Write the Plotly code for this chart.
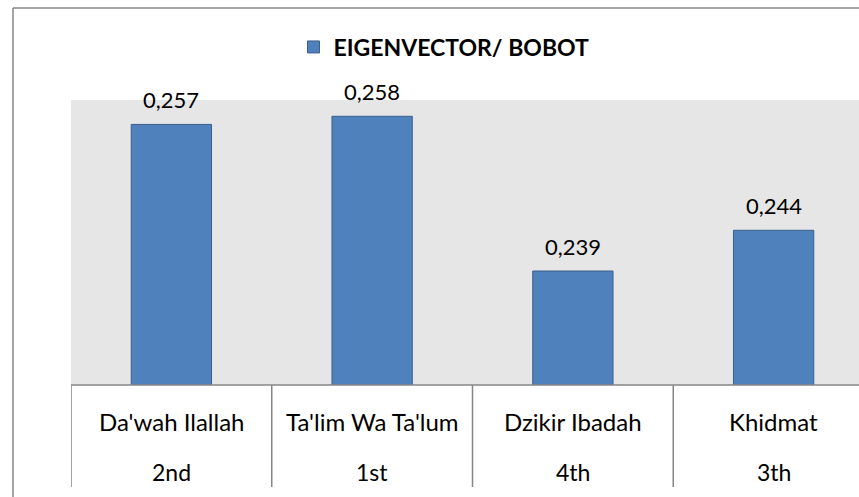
import plotly.graph_objects as go

categories = ["Da'wah Ilallah", "Ta'lim Wa Ta'lum", "Dzikir Ibadah", "Khidmat"]
ranks = ["2nd", "1st", "4th", "3th"]
values = [0.257, 0.258, 0.239, 0.244]
value_labels = ["0,257", "0,258", "0,239", "0,244"]
series_name = "EIGENVECTOR/ BOBOT"

W, H = 859, 497
L, R, T, B = 71, 0, 100, 112
pw, ph = W - L - R, H - T - B

def px_x(x):
    return (x - L) / pw

def px_y(y):
    return (H - B - y) / ph

FONT = "Lato, 'Open Sans', sans-serif"
GRID = "#868686"

xs = list(range(len(categories)))
fig = go.Figure()
fig.add_trace(go.Bar(
    x=xs, y=values, name=series_name, width=0.4,
    marker=dict(color="#4F81BD", line=dict(color="#3A5F8B", width=1)),
    showlegend=True, hoverinfo="skip",
))

shapes = []
for i in range(len(categories) + 1):
    shapes.append(dict(type="line", xref="x", yref="paper",
                       x0=i - 0.5, x1=i - 0.5, y0=0, y1=px_y(487),
                       line=dict(color=GRID, width=1.5)))
shapes.append(dict(type="line", xref="paper", yref="paper", x0=0, x1=1,
                   y0=0, y1=0, line=dict(color=GRID, width=1.5)))
shapes.append(dict(type="line", xref="paper", yref="paper",
                   x0=px_x(13), x1=px_x(13), y0=px_y(8), y1=px_y(500),
                   line=dict(color=GRID, width=1.5)))
shapes.append(dict(type="line", xref="paper", yref="paper",
                   x0=px_x(13), x1=px_x(862), y0=px_y(8), y1=px_y(8),
                   line=dict(color=GRID, width=1.5)))

annotations = []
for i, (v, lab) in enumerate(zip(values, value_labels)):
    annotations.append(dict(x=i, y=v, xref="x", yref="y", text=lab,
                            yanchor="middle", yshift=25, showarrow=False,
                            font=dict(family=FONT, size=22, color="#000")))
for i, (c, r) in enumerate(zip(categories, ranks)):
    annotations.append(dict(x=i, y=px_y(421), xref="x", yref="paper", text=c,
                            yanchor="middle", showarrow=False,
                            font=dict(family=FONT, size=24, color="#000")))
    annotations.append(dict(x=i, y=px_y(472), xref="x", yref="paper", text=r,
                            yanchor="middle", showarrow=False,
                            font=dict(family=FONT, size=23, color="#000")))

fig.update_layout(
    width=W, height=H,
    margin=dict(l=L, r=R, t=T, b=B, pad=0),
    paper_bgcolor="white", plot_bgcolor="#E6E6E6",
    shapes=shapes, annotations=annotations,
    xaxis=dict(range=[-0.5, 3.5 - 15 / 200.7], showticklabels=False,
               showgrid=False, zeroline=False, showline=False, fixedrange=True),
    yaxis=dict(range=[0.225, 0.26], showticklabels=False, showgrid=False,
               zeroline=False, showline=False, fixedrange=True),
    showlegend=True,
    legend=dict(orientation="h", x=px_x(444), xanchor="center",
                y=px_y(47), yanchor="middle",
                font=dict(family=FONT, size=23, color="#000", weight="bold"),
                bgcolor="rgba(0,0,0,0)", itemwidth=30),
    bargap=0.6,
)

fig.write_html("out.html", config={"displayModeBar": False},
               post_script="document.body.style.margin='0px';document.body.style.overflow='hidden';")
